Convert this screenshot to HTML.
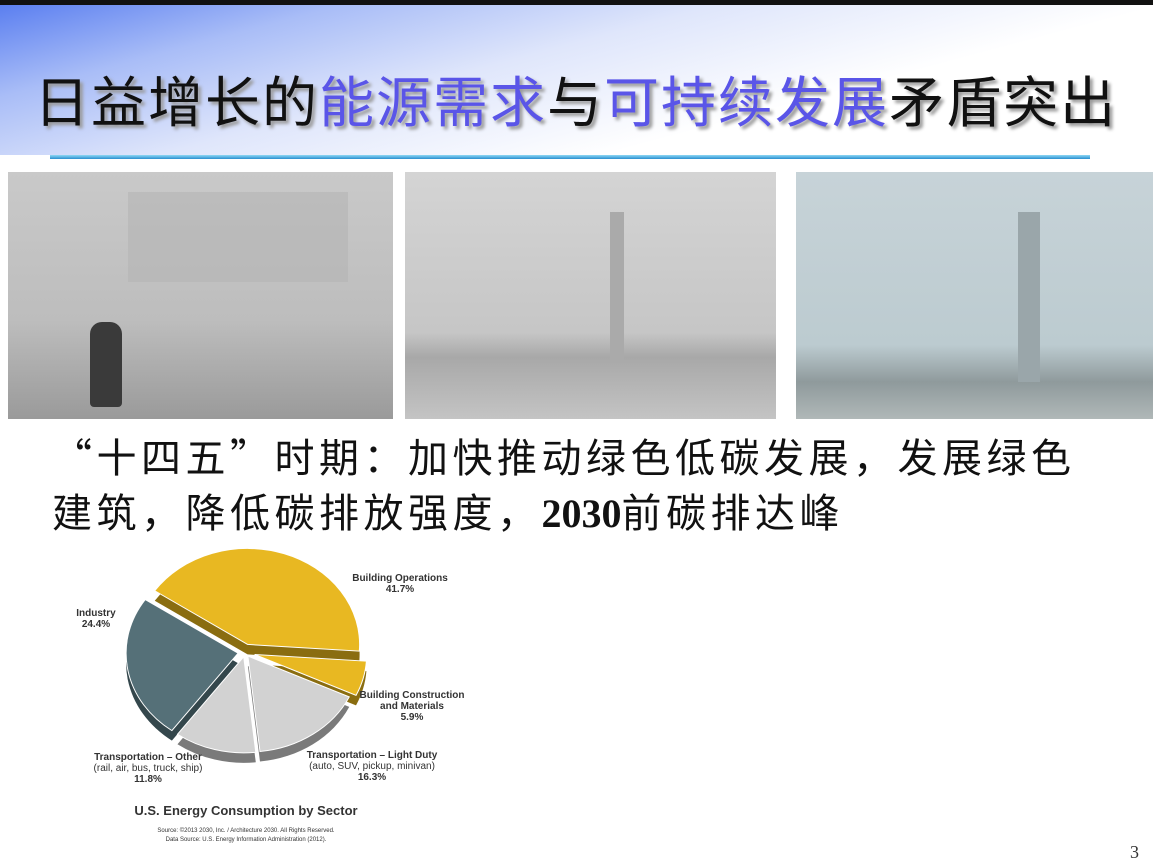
<!DOCTYPE html>
<html><head><meta charset="utf-8"><style>
body{margin:0;width:1153px;height:865px;overflow:hidden;background:#fff;position:relative;font-family:"Liberation Sans","Noto Sans CJK SC",sans-serif}
.abs{position:absolute}
.photo{position:absolute;top:172px;height:247px;overflow:hidden}
</style></head><body>
<div class="abs" style="left:0;top:0;width:1153px;height:5px;background:#111"></div>
<div class="abs" style="left:0;top:5px;width:1153px;height:150px;background:linear-gradient(165deg,#5b7ff0 0%,#a9bdf7 20%,#dfe6fb 42%,#fff 68%)"></div>
<div class="abs" style="left:34px;top:64px;font-size:55px;line-height:68px;letter-spacing:2px;color:#111;font-family:'Noto Sans CJK SC',sans-serif;text-shadow:3px 3px 3px #999;white-space:nowrap">日益增长的<span style="color:#5a55e8">能源需求</span>与<span style="color:#5a55e8">可持续发展</span>矛盾突出</div>
<div class="abs" style="left:50px;top:155px;width:1040px;height:4px;background:linear-gradient(#8fd8f5,#2a8fd0)"></div>
<div class="photo" style="left:8px;width:385px;background:linear-gradient(#c9c9c9,#bdbdbd 60%,#9a9a9a)">
<div style="position:absolute;left:120px;top:20px;width:220px;height:90px;background:#b4b4b4;opacity:.6"></div>
<div style="position:absolute;left:82px;top:150px;width:32px;height:85px;background:#3a3a3a;border-radius:12px 12px 4px 4px"></div></div>
<div class="photo" style="left:405px;width:371px;background:linear-gradient(#d4d4d4,#c6c6c6 65%,#a8a8a8 75%,#c4c4c4)">
<div style="position:absolute;left:205px;top:40px;width:14px;height:150px;background:#aaa"></div></div>
<div class="photo" style="left:796px;width:357px;background:linear-gradient(#c7d3d8,#bccbd0 70%,#8f9a9c 85%,#b0b8b8)">
<div style="position:absolute;left:222px;top:40px;width:22px;height:170px;background:#9aa6aa"></div></div>
<div class="abs" style="left:52px;top:428px;font-size:40px;line-height:55px;letter-spacing:4.5px;color:#111;font-family:'Noto Sans CJK SC',sans-serif;white-space:nowrap">“十四五”时期：加快推动绿色低碳发展，发展绿色<br>建筑，降低碳排放强度，<b style="font-family:'Liberation Serif',serif;letter-spacing:0">2030</b>前碳排达峰</div>
<svg class="abs" style="left:0;top:0" width="1153" height="865" id="pie"></svg>
<div class="abs" style="left:1130px;top:842px;font-size:18px;color:#333;font-family:'Liberation Serif',serif">3</div>
<script>
const sectors=["Building Operations","Building Construction and Materials","Transportation – Light Duty","Transportation – Other","Industry"];
const shares=[41.7,5.9,16.3,11.8,24.4];
const colors=["#e8b822","#e8b822","#d2d2d2","#d2d2d2","#557078"];
const sides=["#8a6d10","#8a6d10","#7a7a7a","#7a7a7a","#34474c"];
const explode=[8,10,5,5,7];
const svg=document.getElementById('pie');const NS="http://www.w3.org/2000/svg";
const cx=245,cy=652,rx=112,ry=96,depth=10,start=-56;
function pt(a,r1,r2,ox,oy){const t=(a-90)*Math.PI/180;return [ox+r1*Math.cos(t),oy+r2*Math.sin(t)];}
const total=shares.reduce((a,b)=>a+b,0);let a0=start;
const slices=shares.map((s,i)=>{const a1=a0+s/total*360;const mid=(a0+a1)/2;const o=pt(mid,explode[i],explode[i],cx,cy);const r={a0,a1,ox:o[0],oy:o[1]};a0=a1;return r;});
function path(sl,dy){const p0=pt(sl.a0,rx,ry,sl.ox,sl.oy+dy),p1=pt(sl.a1,rx,ry,sl.ox,sl.oy+dy);const large=(sl.a1-sl.a0)>180?1:0;return `M${sl.ox},${sl.oy+dy}L${p0[0]},${p0[1]}A${rx},${ry} 0 ${large} 1 ${p1[0]},${p1[1]}Z`;}
slices.forEach((sl,i)=>{const p=document.createElementNS(NS,'path');p.setAttribute('d',path(sl,depth));p.setAttribute('fill',sides[i]);

svg.appendChild(p);});
slices.forEach((sl,i)=>{const p=document.createElementNS(NS,'path');p.setAttribute('d',path(sl,0));p.setAttribute('fill',colors[i]);p.setAttribute('stroke','#fff');p.setAttribute('stroke-width','1');

svg.appendChild(p);});
const labels=[[400,581,"Building Operations",null,shares[0]],[412,698,"Building Construction","and Materials",shares[1]],[372,758,"Transportation – Light Duty","(auto, SUV, pickup, minivan)",shares[2]],[148,760,"Transportation – Other","(rail, air, bus, truck, ship)",shares[3]],[96,616,"Industry",null,shares[4]]];
labels.forEach(l=>{const t=document.createElementNS(NS,'text');t.setAttribute('x',l[0]);t.setAttribute('y',l[1]);t.setAttribute('text-anchor','middle');t.setAttribute('font-size','10');t.setAttribute('font-family','Liberation Sans, sans-serif');t.setAttribute('fill','#333');


let y=0;const lines=[[l[2],'bold'],l[3]?[l[3],l[3].startsWith('(')?'normal':'bold']:null,[l[4].toFixed(1)+'%','bold']].filter(Boolean);
lines.forEach(([s,w])=>{const ts=document.createElementNS(NS,'tspan');ts.setAttribute('x',l[0]);ts.setAttribute('dy',y?11:0);ts.setAttribute('font-weight',w);ts.textContent=s;t.appendChild(ts);y++;});svg.appendChild(t);});
function txt(x,y,s,size,w,name){const t=document.createElementNS(NS,'text');t.setAttribute('x',x);t.setAttribute('y',y);t.setAttribute('text-anchor','middle');t.setAttribute('font-size',size);t.setAttribute('font-weight',w);t.setAttribute('font-family','Liberation Sans, sans-serif');t.setAttribute('fill','#333');

t.textContent=s;svg.appendChild(t);}
txt(246,815,"U.S. Energy Consumption by Sector",13,'bold','chart-title');
txt(246,832,"Source: ©2013 2030, Inc. / Architecture 2030. All Rights Reserved.",6,'normal','chart-source');
txt(246,841,"Data Source: U.S. Energy Information Administration (2012).",6,'normal','chart-data-source');
</script>
</body></html>
